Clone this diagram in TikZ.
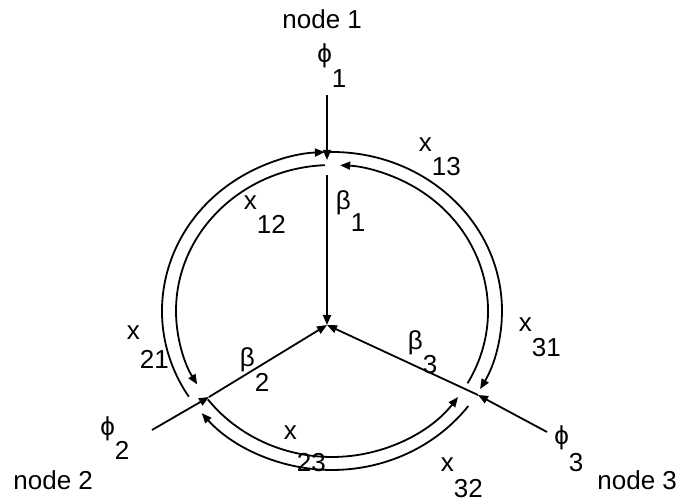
\documentclass[tikz,border=0pt]{standalone}
\usepackage{fontspec}
\setmainfont{Liberation Sans}
\usetikzlibrary{arrows.meta,calc}
\tikzset{
  flow/.style={-{Triangle[length=5pt,width=4pt]}, line width=0.9pt},
  lab/.style={inner sep=0pt, anchor=base west, font=\fontsize{13}{15}\selectfont}
}
\newcommand{\sublab}[3][12pt]{#2\raisebox{-#1}{#3}}

\begin{document}
\begin{tikzpicture}[x=0.5pt,y=0.5pt]
\useasboundingbox (0,0) rectangle (681,503);
% junction points
\coordinate (O) at (332,192);
\coordinate (hub) at (327,178);
\coordinate (j1) at (327,336);
\coordinate (j2) at (209,106);
\coordinate (j3) at (478,108);
\coordinate (s1) at (327,408);
\coordinate (s2) at (152,73);
\coordinate (s3) at (547,71);

% inflows phi
\draw[flow, shorten >=3.5pt] (s1) -- (j1);
\draw[flow] (s2) -- (j2);
\draw[flow] (s3) -- (j3);
% beta links to the hub
\draw[flow, shorten <=4pt] (j1) -- (hub);
\draw[flow] (j2) -- (hub);
\draw[flow] (j3) -- (hub);

% outer ring
\draw[flow] ($(O)+(212.6:170 and 159)$) arc[start angle=212.6, end angle=92.4, x radius=170, y radius=159];
\draw[flow] ($(O)+(90.7:170 and 159)$) arc[start angle=90.7, end angle=-29.4, x radius=170, y radius=159];
\draw[flow] ($(O)+(-36.7:170 and 159)$) arc[start angle=-36.7, end angle=-140, x radius=170, y radius=159];
% inner ring
\draw[flow] ($(O)+(92.6:156 and 146)$) arc[start angle=92.6, end angle=210.2, x radius=156, y radius=146];
\draw[flow] ($(O)+(-29.7:156 and 146)$) arc[start angle=-29.7, end angle=87, x radius=156, y radius=146];
\draw[flow] ($(O)+(-142.7:156 and 146)$) arc[start angle=-142.7, end angle=-36.1, x radius=156, y radius=146];

% labels
\node[lab] (node1) at (282,474) {node 1};
\node[lab] (node2) at (13,13) {node 2};
\node[lab] (node3) at (597,13) {node 3};
\node[lab] (phi1) at (317,440) {\sublab[12.5pt]{ϕ}{1}};
\node[lab] (phi2) at (100,67) {\sublab{ϕ}{2}};
\node[lab] (phi3) at (554,58) {\sublab[13.5pt]{ϕ}{3}};
\node[lab] (beta1) at (335.5,293) {\sublab[11pt]{β}{1}};
\node[lab] (beta2) at (239.5,136) {\sublab[12.5pt]{β}{2}};
\node[lab] (beta3) at (407.5,153) {\sublab{β}{3}};
\node[lab] (x12) at (243.5,293) {\sublab{x}{12}};
\node[lab] (x13) at (418.5,351) {\sublab{x}{13}};
\node[lab] (x21) at (126.5,163) {\sublab[14.5pt]{x}{21}};
\node[lab] (x31) at (518.5,171) {\sublab[12.5pt]{x}{31}};
\node[lab] (x23) at (283.5,63) {\sublab[16pt]{x}{23}};
\node[lab] (x32) at (440.5,31) {\sublab[13pt]{x}{32}};
\end{tikzpicture}
\end{document}
